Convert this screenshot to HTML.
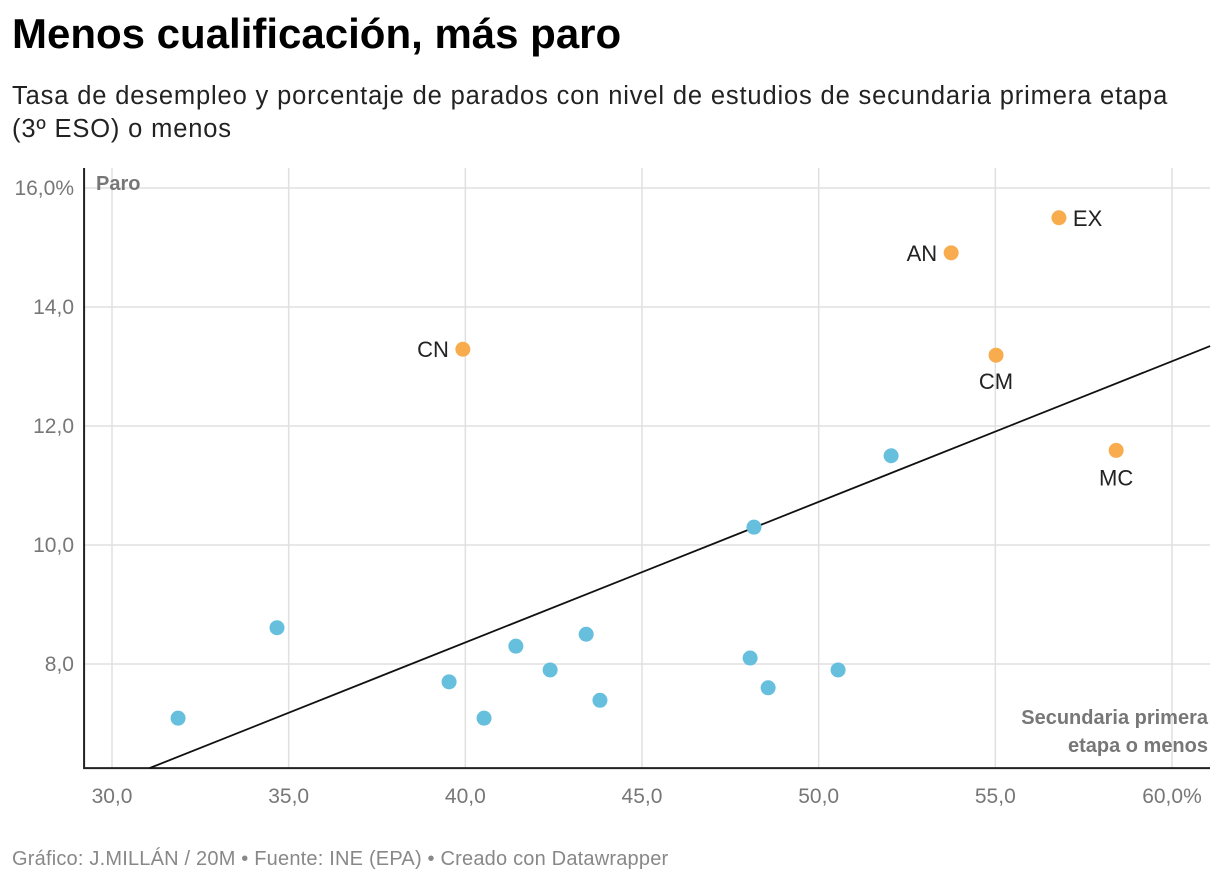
<!DOCTYPE html>
<html><head><meta charset="utf-8"><style>
body{margin:0;background:#fff;font-family:"Liberation Sans",sans-serif;width:1220px;height:884px;overflow:hidden}
h1{position:absolute;left:12px;top:10px;margin:0;font-size:42px;font-weight:bold;color:#000}
.sub{position:absolute;left:12px;top:80px;font-size:25.5px;color:#222;line-height:33px;width:1185px;letter-spacing:0.85px}
.foot{position:absolute;left:12px;top:848px;font-size:20px;color:#888;letter-spacing:0.2px}
svg{position:absolute;left:0;top:0}
</style></head><body>
<h1>Menos cualificación, más paro</h1>
<div class="sub">Tasa de desempleo y porcentaje de parados con nivel de estudios de secundaria primera etapa (3º ESO) o menos</div>
<svg id="c" width="1220" height="884"></svg>
<div class="foot">Gráfico: J.MILLÁN / 20M • Fuente: INE (EPA) • Creado con Datawrapper</div>
<script>
const xTicks=[30,35,40,45,50,55,60];
const xTickLabels=["30,0","35,0","40,0","45,0","50,0","55,0","60,0%"];
const yTicks=[8,10,12,14,16];
const yTickLabels=["8,0","10,0","12,0","14,0","16,0%"];
const blueX=[31.87,34.67,39.54,40.53,41.43,42.40,43.42,43.81,48.06,48.57,48.17,50.55,52.05];
const blueY=[7.09,8.61,7.70,7.09,8.30,7.90,8.50,7.39,8.10,7.60,10.30,7.90,11.50];
const orangeLabels=["CN","AN","EX","CM","MC"];
const orangeX=[39.93,53.75,56.8,55.02,58.42];
const orangeY=[13.29,14.91,15.5,13.19,11.59];
const trend=[0.2363,-1.09];
const NS="http://www.w3.org/2000/svg";
const svg=document.getElementById('c');
const X=v=>112+(v-30)*35.333, Y=v=>664-(v-8)*59.5;
const xmin=29.21,xmax=61.08,ymin=6.25;
function mk(t,a,p){const e=document.createElementNS(NS,t);for(const k in a)e.setAttribute(k,a[k]);(p||svg).appendChild(e);return e;}
xTicks.forEach((t,i)=>{
 const l=mk('line',{x1:X(t),x2:X(t),y1:168,y2:Y(ymin),stroke:'#e0e0e0','stroke-width':1.5});
 
 
 const tx=mk('text',{x:X(t),y:803,'text-anchor':'middle','font-size':21,fill:'#777'});tx.textContent=xTickLabels[i];
 
 
});
yTicks.forEach((t,i)=>{
 const l=mk('line',{x1:X(xmin),x2:1210,y1:Y(t),y2:Y(t),stroke:'#e0e0e0','stroke-width':1.5});
 
 
 const tx=mk('text',{x:74,y:Y(t)+7,'text-anchor':'end','font-size':21,fill:'#777'});tx.textContent=yTickLabels[i];
 
 
});
const ax=mk('path',{d:`M${X(xmin)},168V${Y(ymin)}H1210`,stroke:'#222','stroke-width':2,fill:'none'});


let t=mk('text',{x:96,y:190,'font-size':20,'font-weight':'bold',fill:'#777'});t.textContent='Paro';


t=mk('text',{x:1208,y:724,'font-size':20,'font-weight':'bold',fill:'#777','text-anchor':'end'});t.textContent='Secundaria primera';


t=mk('text',{x:1208,y:752,'font-size':20,'font-weight':'bold',fill:'#777','text-anchor':'end'});t.textContent='etapa o menos';


const x0=(ymin-trend[1])/trend[0];
const tl=mk('line',{x1:X(x0),y1:Y(ymin),x2:X(xmax),y2:Y(trend[0]*xmax+trend[1]),stroke:'#111','stroke-width':1.8});


blueX.forEach((v,i)=>{const c=mk('circle',{cx:X(v),cy:Y(blueY[i]),r:7.5,fill:'#66bfdd'});
 
 });
const pos={CN:[-14,8,'end'],AN:[-14,8,'end'],EX:[14,8,'start'],CM:[0,34,'middle'],MC:[0,35,'middle']};
orangeX.forEach((v,i)=>{const c=mk('circle',{cx:X(v),cy:Y(orangeY[i]),r:7.5,fill:'#f9ac4d'});
 
 
 const p=pos[orangeLabels[i]]||[12,8,'start'];
 const tx=mk('text',{x:X(v)+p[0],y:Y(orangeY[i])+p[1],'font-size':22,fill:'#222','text-anchor':p[2]});tx.textContent=orangeLabels[i];
 
 
});
</script>
</body></html>
